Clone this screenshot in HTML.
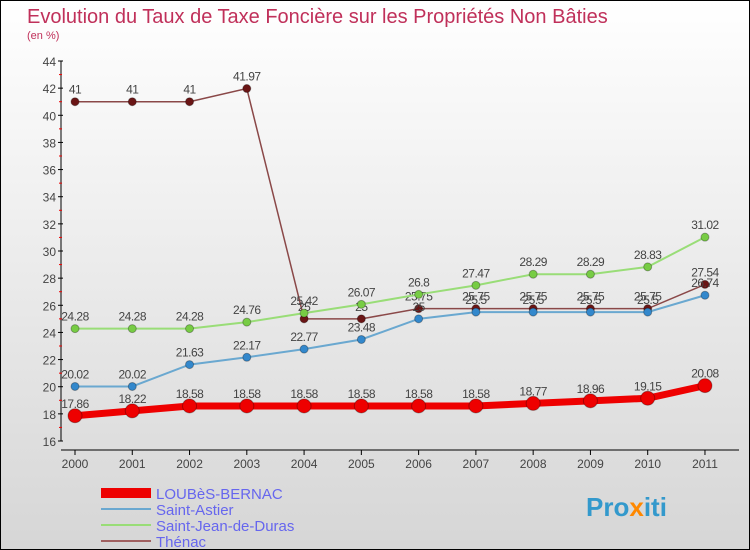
<!DOCTYPE html>
<html><head><meta charset="utf-8"><style>
body{margin:0}
#c{width:748px;height:548px;border:1px solid #000;background:linear-gradient(#fff,#d6d6d6);position:relative;font-family:"Liberation Sans",sans-serif}
</style></head><body>
<div id="c">
<svg id="s" width="748" height="548" style="position:absolute;left:0;top:0">
<text x="26" y="22" font-size="20" fill="#c0305a">Evolution du Taux de Taxe Foncière sur les Propriétés Non Bâties</text>
<text x="26" y="38" font-size="11" fill="#c0305a">(en %)</text>
<g id="axes"></g><g id="series"></g>
<g>
<line x1="100" y1="492" x2="150" y2="492" stroke="#e00" stroke-width="10"/>
<text x="155" y="498" font-size="15" fill="#6666ee">LOUBèS-BERNAC</text>
<line x1="100" y1="508" x2="150" y2="508" stroke="#6aa8d0" stroke-width="2"/>
<text x="155" y="514" font-size="15" fill="#6666ee">Saint-Astier</text>
<line x1="100" y1="524" x2="150" y2="524" stroke="#99dd77" stroke-width="2"/>
<text x="155" y="530" font-size="15" fill="#6666ee">Saint-Jean-de-Duras</text>
<line x1="100" y1="540" x2="150" y2="540" stroke="#a06060" stroke-width="2"/>
<text x="155" y="546" font-size="15" fill="#6666ee">Thénac</text>
</g>
<text x="585" y="515" font-size="26" font-weight="bold" fill="#3399cc">Pro<tspan fill="#ff8800">x</tspan>iti</text>
</svg></div>
<script>
const years=[2000,2001,2002,2003,2004,2005,2006,2007,2008,2009,2010,2011];
const yTicks=[16,18,20,22,24,26,28,30,32,34,36,38,40,42,44];
const loubes=[17.86,18.22,18.58,18.58,18.58,18.58,18.58,18.58,18.77,18.96,19.15,20.08];
const astier=[20.02,20.02,21.63,22.17,22.77,23.48,25,25.5,25.5,25.5,25.5,26.74];
const jean=[24.28,24.28,24.28,24.76,25.42,26.07,26.8,27.47,28.29,28.29,28.83,31.02];
const thenac=[41,41,41,41.97,25,25,25.75,25.75,25.75,25.75,25.75,27.54];
const NS="http://www.w3.org/2000/svg";
function X(i){return 74+i*57.27;}
function Y(v){return 440-(v-16)*(380/28);}
function mk(t,a,p){const e=document.createElementNS(NS,t);for(const k in a)e.setAttribute(k,a[k]);p.appendChild(e);return e;}
const ax=document.getElementById('axes');
let yl=mk('line',{x1:60,y1:Y(44),x2:60,y2:Y(16),stroke:'#000'},ax);


let xl=mk('line',{x1:60,y1:449,x2:738,y2:449,stroke:'#000'},ax);


yTicks.forEach(v=>{
 mk('line',{x1:57,y1:Y(v),x2:62,y2:Y(v),stroke:'#000'},ax);
 if(v<44) mk('line',{x1:58,y1:Y(v+1),x2:61,y2:Y(v+1),stroke:'#e00'},ax);
 const t=mk('text',{x:55,y:Y(v)+5,'font-size':12,fill:'#444','text-anchor':'end'},ax);t.textContent=v;
 
 
});
years.forEach((yr,i)=>{
 mk('line',{x1:X(i),y1:449,x2:X(i),y2:454,stroke:'#000'},ax);
 const t=mk('text',{x:X(i),y:467,'font-size':12,fill:'#444','text-anchor':'middle'},ax);t.textContent=yr;
 
 
});
const sg=document.getElementById('series');
function draw(vals,col,dot,w,r,name){
 const g=mk('g',{},sg);
 
 
 mk('polyline',{points:vals.map((v,i)=>X(i)+','+Y(v)).join(' '),fill:'none',stroke:col,'stroke-width':w},g);
 vals.forEach((v,i)=>{
  const c=mk('circle',{cx:X(i),cy:Y(v),r:r,fill:dot,stroke:'rgba(0,0,0,0.3)'},g);
  
  
  const t=mk('text',{x:X(i),y:Y(v)-8,'font-size':12,fill:'#444','text-anchor':'middle','letter-spacing':'-0.5'},g);t.textContent=v;
  
  
 });
}
draw(thenac,'#8a4848','#6a1515',1.5,4,'thenac');
draw(jean,'#99dd77','#77cc44',2,4,'saint-jean');
draw(astier,'#6aa8d0','#3388cc',2,4,'saint-astier');
draw(loubes,'#e00','#e00',7,7,'loubes');
</script>
</body></html>
